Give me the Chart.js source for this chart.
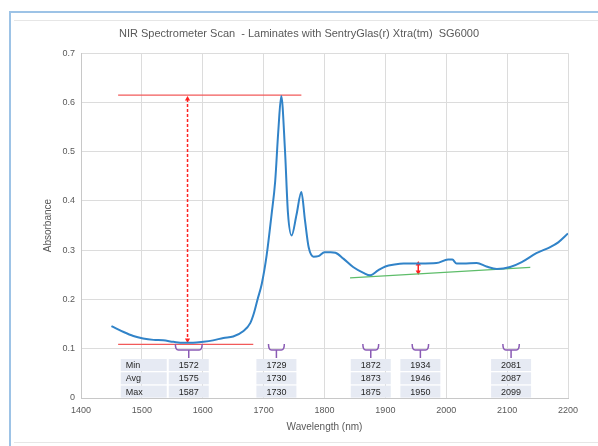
<!DOCTYPE html>
<html>
<head>
<meta charset="utf-8">
<script src="https://cdn.jsdelivr.net/npm/chart.js@4"></script>
<style>
  body { margin: 0; background: #fff; overflow: hidden; }
  .frame { position: absolute; left: 9px; top: 11px; width: 700px; height: 500px;
           border-left: 2px solid #9dc3e6; border-top: 2px solid #9dc3e6; }
  .inner { position: absolute; left: 14px; top: 20px; width: 700px; height: 421px;
           border-top: 1px solid #e6e6e6; border-bottom: 1px solid #e6e6e6; }
  .wrap { position: absolute; left: 0; top: 0; width: 598px; height: 446px; }
</style>
</head>
<body>
<div class="frame"></div>
<div class="inner"></div>
<div class="wrap"><canvas id="nir"></canvas></div>
<script>
// spectrum
const wavelengths = [1450, 1470, 1486, 1502, 1519, 1535, 1552, 1568, 1584, 1601, 1617, 1634, 1650, 1667,
  1678, 1684, 1690, 1697, 1705, 1713, 1719, 1724, 1729, 1735, 1740, 1746, 1754, 1762, 1768, 1774,
  1782, 1790, 1800, 1810, 1818, 1831, 1847, 1864, 1875, 1888, 1900, 1915, 1930, 1957, 1984, 2003,
  2010, 2017, 2028, 2050, 2066, 2083, 2105, 2124, 2148, 2170, 2184, 2200];
const absorbance = [0.146, 0.134, 0.126, 0.121, 0.118, 0.117, 0.114, 0.112, 0.112, 0.114, 0.117, 0.122, 0.125, 0.136,
  0.152, 0.172, 0.200, 0.232, 0.290, 0.372, 0.440, 0.540, 0.613, 0.505, 0.375, 0.330, 0.372, 0.418, 0.360, 0.306,
  0.287, 0.288, 0.296, 0.296, 0.295, 0.283, 0.266, 0.254, 0.249, 0.259, 0.267, 0.271, 0.273, 0.273, 0.274, 0.281,
  0.281, 0.273, 0.273, 0.274, 0.267, 0.262, 0.266, 0.276, 0.294, 0.306, 0.316, 0.334];

// annotation lines
const maxLine = [[1461, 0.615], [1762, 0.615]];
const minLine = [[1461, 0.109], [1683, 0.109]];
const peakArrow = [[1575, 0.607], [1575, 0.118]];
const baseLine = [[1842, 0.244], [2138, 0.265]];
const smallArrow = [[1954, 0.272], [1954, 0.256]];

// min/avg/max tables under the braces
const braceRanges = [[1555, 1599], [1708, 1734], [1863, 1889], [1944, 1971], [2093, 2120]];
const rowNames = ['Min', 'Avg', 'Max'];
const tableMin = [1572, 1729, 1872, 1934, 2081];
const tableAvg = [1575, 1730, 1873, 1946, 2087];
const tableMax = [1587, 1730, 1875, 1950, 2099];

const xTicks = [1400, 2200, 100];
const yTicks = [0, 0.7, 0.1];

const pts = arr => arr.map(p => ({ x: p[0], y: p[1] }));
const grey = '#595959';
const fam = '"Liberation Sans", Arial, sans-serif';

const tablesPlugin = {
  id: 'tables',
  afterDatasetsDraw(chart) {
    const ctx = chart.ctx, x = chart.scales.x, y = chart.scales.y;
    const y0 = y.getPixelForValue(0);
    const rows = [tableMin, tableAvg, tableMax];
    ctx.save();
    // braces
    ctx.strokeStyle = '#8a5bb5';
    ctx.lineWidth = 1.5;
    braceRanges.forEach(r => {
      const l = x.getPixelForValue(r[0]), rr = x.getPixelForValue(r[1]);
      const c = (l + rr) / 2, top = y0 - 54, bar = y0 - 48;
      ctx.beginPath();
      ctx.moveTo(l, top);
      ctx.quadraticCurveTo(l, bar, l + 3, bar);
      ctx.lineTo(rr - 3, bar);
      ctx.quadraticCurveTo(rr, bar, rr, top);
      ctx.moveTo(c, bar);
      ctx.lineTo(c, y0 - 40);
      ctx.stroke();
    });
    // cells
    ctx.font = '9px ' + fam;
    ctx.textBaseline = 'middle';
    braceRanges.forEach((r, i) => {
      const c = x.getPixelForValue((r[0] + r[1]) / 2);
      rows.forEach((vals, j) => {
        const top = y0 - 39 + j * 13.3;
        ctx.fillStyle = '#e6eaf3';
        ctx.fillRect(c - 20, top, 40, 12);
        if (i === 0) ctx.fillRect(c - 68, top, 46, 12);
        ctx.fillStyle = '#262626';
        ctx.textAlign = 'center';
        ctx.fillText(String(vals[i]), c, top + 6.5);
        if (i === 0) {
          ctx.textAlign = 'left';
          ctx.fillText(rowNames[j], c - 63, top + 6.5);
        }
      });
    });
    ctx.restore();
  }
};

const arrowDs = (data, dash) => ({
  data: pts(data),
  borderColor: '#ff2020',
  backgroundColor: '#ff2020',
  borderWidth: 1.5,
  borderDash: dash,
  pointStyle: 'triangle',
  pointRadius: 3,
  pointRotation: [0, 180],
  pointBorderWidth: 0
});

new Chart(document.getElementById('nir'), {
  type: 'line',
  data: {
    datasets: [
      {
        data: wavelengths.map((w, i) => ({ x: w, y: absorbance[i] })),
        borderColor: '#3183c8',
        borderWidth: 2,
        pointRadius: 0,
        cubicInterpolationMode: 'monotone'
      },
      { data: pts(maxLine), borderColor: '#f25a5a', borderWidth: 1.3, pointRadius: 0 },
      { data: pts(minLine), borderColor: '#f25a5a', borderWidth: 1.3, pointRadius: 0 },
      arrowDs(peakArrow, [3, 2]),
      { data: pts(baseLine), borderColor: '#5ebd6a', borderWidth: 1.3, pointRadius: 0 },
      arrowDs(smallArrow, [])
    ]
  },
  options: {
    responsive: true,
    maintainAspectRatio: false,
    animation: false,
    layout: { padding: { left: 30, right: 30, top: 20, bottom: 8 } },
    plugins: {
      legend: { display: false },
      tooltip: { enabled: false },
      title: {
        display: true,
        text: 'NIR Spectrometer Scan  - Laminates with SentryGlas(r) Xtra(tm)  SG6000',
        color: grey,
        font: { family: fam, size: 11, weight: 'normal' },
        padding: { top: 7, bottom: 13 }
      }
    },
    scales: {
      x: {
        type: 'linear',
        min: xTicks[0], max: xTicks[1],
        ticks: { stepSize: xTicks[2], color: grey, padding: 7, maxRotation: 0,
                 callback: v => String(v),
                 font: { family: fam, size: 9 } },
        grid: { color: '#dcdcdc', drawTicks: false },
        border: { color: '#c8c8c8' },
        title: { display: true, text: 'Wavelength (nm)', color: grey,
                 font: { family: fam, size: 10 },
                 padding: { top: 5, bottom: 5 } },
        afterFit: s => { s.height = 40; }
      },
      y: {
        min: yTicks[0], max: yTicks[1],
        ticks: { stepSize: yTicks[2], color: grey, padding: 6,
                 font: { family: fam, size: 9 } },
        grid: { color: '#dcdcdc', drawTicks: false },
        border: { color: '#c8c8c8' },
        title: { display: true, text: 'Absorbance', color: grey,
                 font: { family: fam, size: 10 },
                 padding: { top: 12, bottom: 12 } },
        afterFit: s => { s.width = 51; }
      }
    }
  },
  plugins: [tablesPlugin]
});
</script>
</body>
</html>
